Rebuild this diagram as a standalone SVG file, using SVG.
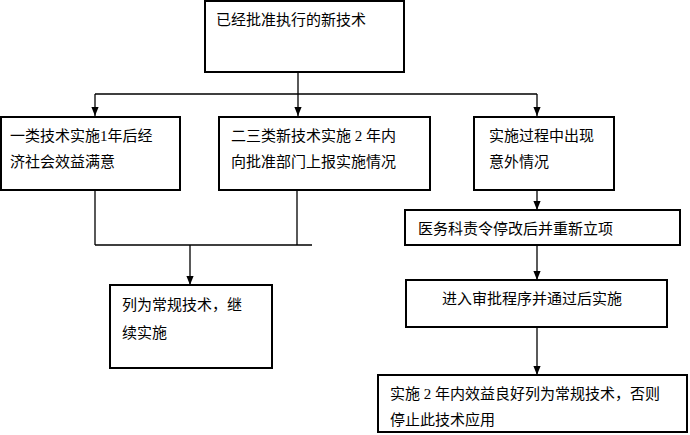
<svg xmlns="http://www.w3.org/2000/svg" width="690" height="435" viewBox="0 0 690 435">
<defs><marker id="a" viewBox="0 0 10 10" refX="10" refY="5" markerWidth="7" markerHeight="7" orient="auto"><path d="M0,1L10,5L0,9z" fill="#000"/></marker></defs>
<style>rect{fill:#fff;stroke:#000;stroke-width:2}text{font-family:"Liberation Serif","Noto Sans CJK SC",serif;font-size:15px;fill:#000}.c{stroke:#000;stroke-width:1.3;fill:none}</style>
<rect width="690" height="435" fill="#fff" style="stroke:none"/>
<g id="connectors">
<path class="c" d="M298,72V94M95,94H537"/>
<path class="c" d="M95,94V116" marker-end="url(#a)"/>
<path class="c" d="M298,94V116" marker-end="url(#a)"/>
<path class="c" d="M537,94V116" marker-end="url(#a)"/>
<path class="c" d="M95,190V245M297,190V245M95,245H312"/>
<path class="c" d="M190,245V285" marker-end="url(#a)"/>
<path class="c" d="M537,190V210" marker-end="url(#a)"/>
<path class="c" d="M537,245V280" marker-end="url(#a)"/>
<path class="c" d="M537,327V375" marker-end="url(#a)"/>
</g>
<g id="n0"><rect x="205" y="1" width="199" height="71"/><text x="216" y="25">已经批准执行的新技术</text></g>
<g id="n1"><rect x="1" y="117" width="179" height="73"/><text x="10" y="141">一类技术实施1年后经</text><text x="10" y="167">济社会效益满意</text></g>
<g id="n2"><rect x="219" y="117" width="211" height="73"/><text x="231" y="141">二三类新技术实施 2 年内</text><text x="231" y="167">向批准部门上报实施情况</text></g>
<g id="n3"><rect x="474" y="117" width="140" height="73"/><text x="489" y="141">实施过程中出现</text><text x="489" y="167">意外情况</text></g>
<g id="n4"><rect x="110" y="285" width="162" height="83"/><text x="122" y="310">列为常规技术，继</text><text x="122" y="338">续实施</text></g>
<g id="n5"><rect x="405" y="210" width="275" height="35"/><text x="418" y="234">医务科责令停改后并重新立项</text></g>
<g id="n6"><rect x="406" y="280" width="261" height="47"/><text x="442" y="304">进入审批程序并通过后实施</text></g>
<g id="n7"><rect x="378" y="375" width="309" height="57"/><text x="390" y="399">实施 2 年内效益良好列为常规技术，否则</text><text x="390" y="425">停止此技术应用</text></g>
</svg>
